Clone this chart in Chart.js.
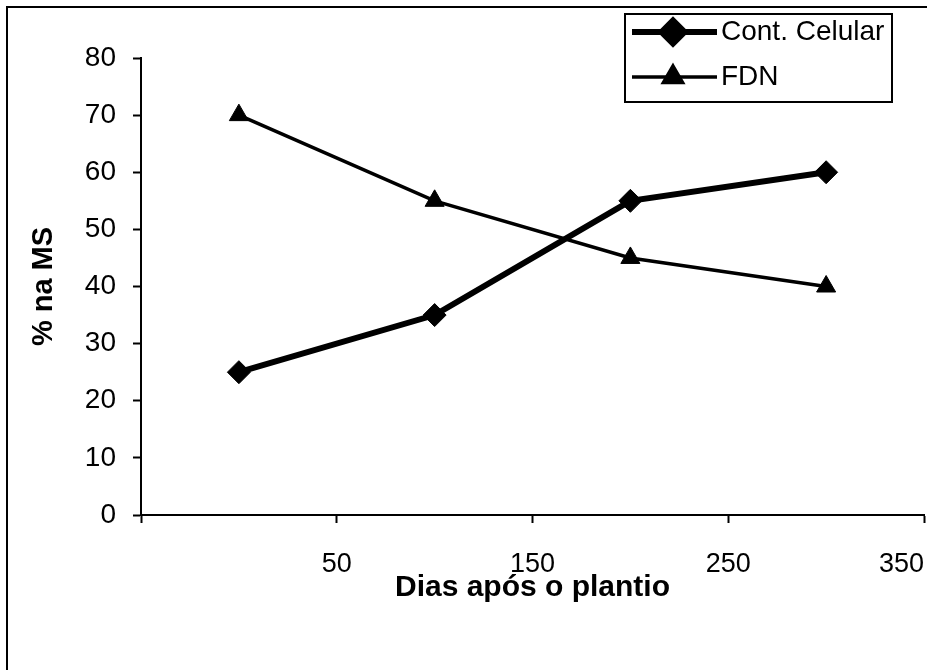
<!DOCTYPE html>
<html lang="pt">
<head>
    <meta charset="UTF-8">
    <title>Cont. Celular e FDN</title>
    <script src="https://cdn.jsdelivr.net/npm/chart.js"></script>
    <style>
        html, body {
            margin: 0;
            padding: 0;
            background: #fff;
            overflow: hidden;
        }
        canvas {
            display: block;
        }
    </style>
</head>
<body>
    <canvas id="chart" width="927" height="670"></canvas>

    <script>
        // Data
        const days = [0, 100, 200, 300];
        const contCelular = [25, 35, 55, 60];
        const fdn = [70, 55, 45, 40];
        const xTicks = [-50, 50, 150, 250, 350];
        const xTickLabels = ['', '50', '150', '250', '350'];

        const FONT = '"Liberation Sans", Arial, sans-serif';

        // Frame lines (left and top edge of the scanned figure)
        const framePlugin = {
            id: 'frame',
            afterDraw(chart) {
                const ctx = chart.ctx;
                ctx.save();
                ctx.strokeStyle = '#000';
                ctx.lineWidth = 2;
                ctx.beginPath();
                ctx.moveTo(7, 670);
                ctx.lineTo(7, 7);
                ctx.lineTo(927, 7);
                ctx.stroke();
                ctx.restore();
            }
        };

        // Boxed legend in the top right corner
        const boxLegend = {
            id: 'boxLegend',
            afterDraw(chart) {
                const ctx = chart.ctx;
                const box = { x: 625, y: 14, w: 267, h: 88 };
                ctx.save();
                ctx.fillStyle = '#fff';
                ctx.fillRect(box.x, box.y, box.w, box.h);
                ctx.strokeStyle = '#000';
                ctx.lineWidth = 2;
                ctx.strokeRect(box.x, box.y, box.w, box.h);

                const rows = [32, 77];
                chart.data.datasets.forEach((ds, i) => {
                    const y = rows[i];
                    ctx.strokeStyle = '#000';
                    ctx.lineWidth = ds.borderWidth;
                    ctx.beginPath();
                    ctx.moveTo(632, y);
                    ctx.lineTo(717, y);
                    ctx.stroke();
                    ctx.fillStyle = '#000';
                    Chart.helpers.drawPoint(ctx, {
                        pointStyle: ds.pointStyle,
                        radius: ds.pointRadius,
                        rotation: 0,
                        borderWidth: 1
                    }, 673, y);
                    ctx.fillStyle = '#000';
                    ctx.font = '28px ' + FONT;
                    ctx.textAlign = 'left';
                    ctx.textBaseline = 'middle';
                    ctx.fillText(ds.label, 721, y);
                });
                ctx.restore();
            }
        };

        new Chart(document.getElementById('chart'), {
            type: 'line',
            data: {
                datasets: [{
                    label: 'Cont. Celular',
                    data: days.map((d, i) => ({ x: d, y: contCelular[i] })),
                    borderColor: '#000',
                    backgroundColor: '#000',
                    borderWidth: 6,
                    pointStyle: 'rectRot',
                    pointRadius: 11.5,
                    pointBorderWidth: 1,
                    tension: 0
                }, {
                    label: 'FDN',
                    data: days.map((d, i) => ({ x: d, y: fdn[i] })),
                    borderColor: '#000',
                    backgroundColor: '#000',
                    borderWidth: 3.5,
                    pointStyle: 'triangle',
                    pointRadius: 11,
                    pointBorderWidth: 1,
                    tension: 0
                }]
            },
            options: {
                responsive: false,
                animation: false,
                devicePixelRatio: 1,
                layout: {
                    autoPadding: false,
                    padding: { top: 58, right: 3, left: 0, bottom: 0 }
                },
                plugins: {
                    legend: { display: false },
                    tooltip: { enabled: false }
                },
                scales: {
                    x: {
                        type: 'linear',
                        min: -50,
                        max: 350,
                        afterBuildTicks(scale) {
                            scale.ticks = xTicks.map(v => ({ value: v }));
                        },
                        afterFit(scale) {
                            scale.height = 155;
                            scale.paddingLeft = 0;
                            scale.paddingRight = 0;
                        },
                        ticks: {
                            align: 'inner',
                            color: '#000',
                            padding: 25,
                            maxRotation: 0,
                            autoSkip: false,
                            font: { family: FONT, size: 27 },
                            callback: (v, i) => xTickLabels[i]
                        },
                        grid: {
                            drawOnChartArea: false,
                            drawTicks: true,
                            tickLength: 8,
                            tickColor: '#000',
                            tickWidth: 2
                        },
                        border: { display: true, color: '#000', width: 2 },
                        title: {
                            display: true,
                            text: 'Dias após o plantio',
                            color: '#000',
                            font: { family: FONT, size: 30, weight: 'bold' },
                            padding: { top: 0, bottom: 64 }
                        }
                    },
                    y: {
                        min: 0,
                        max: 80,
                        afterFit(scale) {
                            scale.width = 141;
                            scale.paddingTop = 0;
                            scale.paddingBottom = 0;
                        },
                        ticks: {
                            stepSize: 10,
                            color: '#000',
                            padding: 17,
                            font: { family: FONT, size: 28 }
                        },
                        grid: {
                            drawOnChartArea: false,
                            drawTicks: true,
                            tickLength: 8,
                            tickColor: '#000',
                            tickWidth: 2
                        },
                        border: { display: true, color: '#000', width: 2 },
                        title: {
                            display: true,
                            text: '% na MS',
                            color: '#000',
                            font: { family: FONT, size: 29, weight: 'bold' },
                            padding: { top: 27, bottom: 0 }
                        }
                    }
                }
            },
            plugins: [framePlugin, boxLegend]
        });
    </script>
</body>
</html>
